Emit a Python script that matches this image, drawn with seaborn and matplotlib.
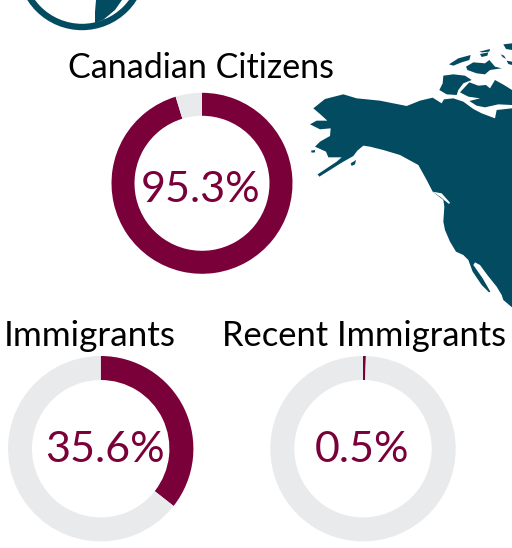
import matplotlib
matplotlib.use("Agg")
import matplotlib.pyplot as plt
from matplotlib.patches import Polygon, Circle
import seaborn as sns

sns.set_theme(style="white")
plt.rcParams['font.family'] = ['Lato', 'DejaVu Sans']

titles = ["Canadian Citizens", "Immigrants", "Recent Immigrants"]
shares = [95.3, 35.6, 0.5]
labels = ["95.3%", "35.6%", "0.5%"]
centers_px = [(202, 183.3), (100.7, 448.7), (363, 448.7)]
title_px = [(200.5, 67.5), (90, 335.5), (364, 335.5)]
title_sizes = [24.5, 25.3, 24.8]
label_px = [(201, 202), (104.5, 462), (361.5, 462)]
radii_px = [90.5, 92.7, 92.7]
ring_px = [23, 24, 24]
WINE, GREY, TEAL = "#7A0039", "#E9EAEC", "#034B61"
W, H = 512, 548

# Map outline, traced in 3x zoom coordinates from the picture
mainland = [(40,235),(75,207),(130,193),(170,205),(240,212),(320,228),(360,212),(398,203),(425,220),(432,208),
            (460,205),(490,215),(520,237),(545,250),(585,265),(590,240),(636,235),(636,832),(610,810),(605,795),
            (590,770),(562,735),(540,705),(525,697),(520,705),(548,745),(571,785),(567,787),(545,765),(518,725),
            (505,690),(490,675),(468,665),(450,635),(435,600),(430,575),(433,530),(430,510),(398,485),(380,450),
            (355,405),(300,375),(250,360),(210,350),(190,347),(172,362),(160,378),(125,398),(58,440),(53,433),
            (110,395),(125,382),(85,382),(78,365),(45,350),(60,335),(90,318),(92,295),(60,298),(30,283),(50,272),
            (82,272),(60,252)]
islands = [
    [(430,137),(460,133),(495,137),(515,150),(490,160),(475,180),(470,195),(440,193),(418,180),(428,160)],
    [(480,187),(508,157),(535,167),(558,165),(570,175),(585,150),(612,165),(636,180),(636,225),(595,223),
     (555,232),(530,227),(508,213),(540,205),(505,200)],
    [(447,103),(475,85),(512,75),(508,90),(485,97),(460,107)],
    [(498,110),(520,97),(555,100),(568,90),(585,110),(605,115),(570,120),(555,133),(530,130),(502,120)],
    [(538,65),(570,57),(568,65),(545,67)],
    [(540,72),(565,67),(562,77),(545,81)],
    [(610,43),(636,40),(636,60),(618,57)],
    [(602,73),(612,77),(618,87),(608,81)],
    [(620,92),(636,95),(636,105),(625,102)],
    [(33,362),(45,360),(45,367),(35,368)],
    [(152,400),(168,390),(165,403),(155,408)],
    [(355,225),(385,208),(385,215),(360,228)],
]
channels = [[(398,485),(425,490),(450,518),(447,522),(420,500)]]
globe_land = [(96,0),(95,12),(95,23),(103,20),(115,10),(122,0)]
globe_sliver = [(103,20),(117,15),(129,3),(127,10),(114,20)]


def to_px(pts):
    return [(300 + x / 3, 30 + y / 3) for x, y in pts]


fig = plt.figure(figsize=(W / 100, H / 100), dpi=100, facecolor="white")
bg = fig.add_axes([0, 0, 1, 1])
bg.set_xlim(0, W)
bg.set_ylim(H, 0)
bg.axis("off")

for poly in [mainland] + islands:
    bg.add_patch(Polygon(to_px(poly), closed=True, fc=TEAL, ec="none"))
for poly in channels:
    bg.add_patch(Polygon(to_px(poly), closed=True, fc="white", ec="none"))
bg.add_patch(Circle((82, -34.5), 61.5, fc="none", ec=TEAL, lw=4.6))
bg.add_patch(Polygon(globe_land, closed=True, fc=TEAL, ec="none"))
bg.add_patch(Polygon(globe_sliver, closed=True, fc=TEAL, ec="none"))

for name, share, label, (cx, cy), (tx, ty), size, (lx, ly), r, ring in zip(
        titles, shares, labels, centers_px, title_px, title_sizes, label_px, radii_px, ring_px):
    ax = fig.add_axes([(cx - r) / W, 1 - (cy + r) / H, 2 * r / W, 2 * r / H])
    ax.pie([share, 100 - share], colors=[WINE, GREY], startangle=90, counterclock=False,
           radius=1, wedgeprops=dict(width=ring / r, linewidth=0))
    ax.set_xlim(-1, 1)
    ax.set_ylim(-1, 1)
    bg.text(tx, ty, name, color="black", fontsize=size, ha="center", va="center")
    fig.text(lx / W, 1 - ly / H, label, color=WINE, fontsize=31, ha="center", va="baseline")

fig.savefig("out.png", dpi=100)
